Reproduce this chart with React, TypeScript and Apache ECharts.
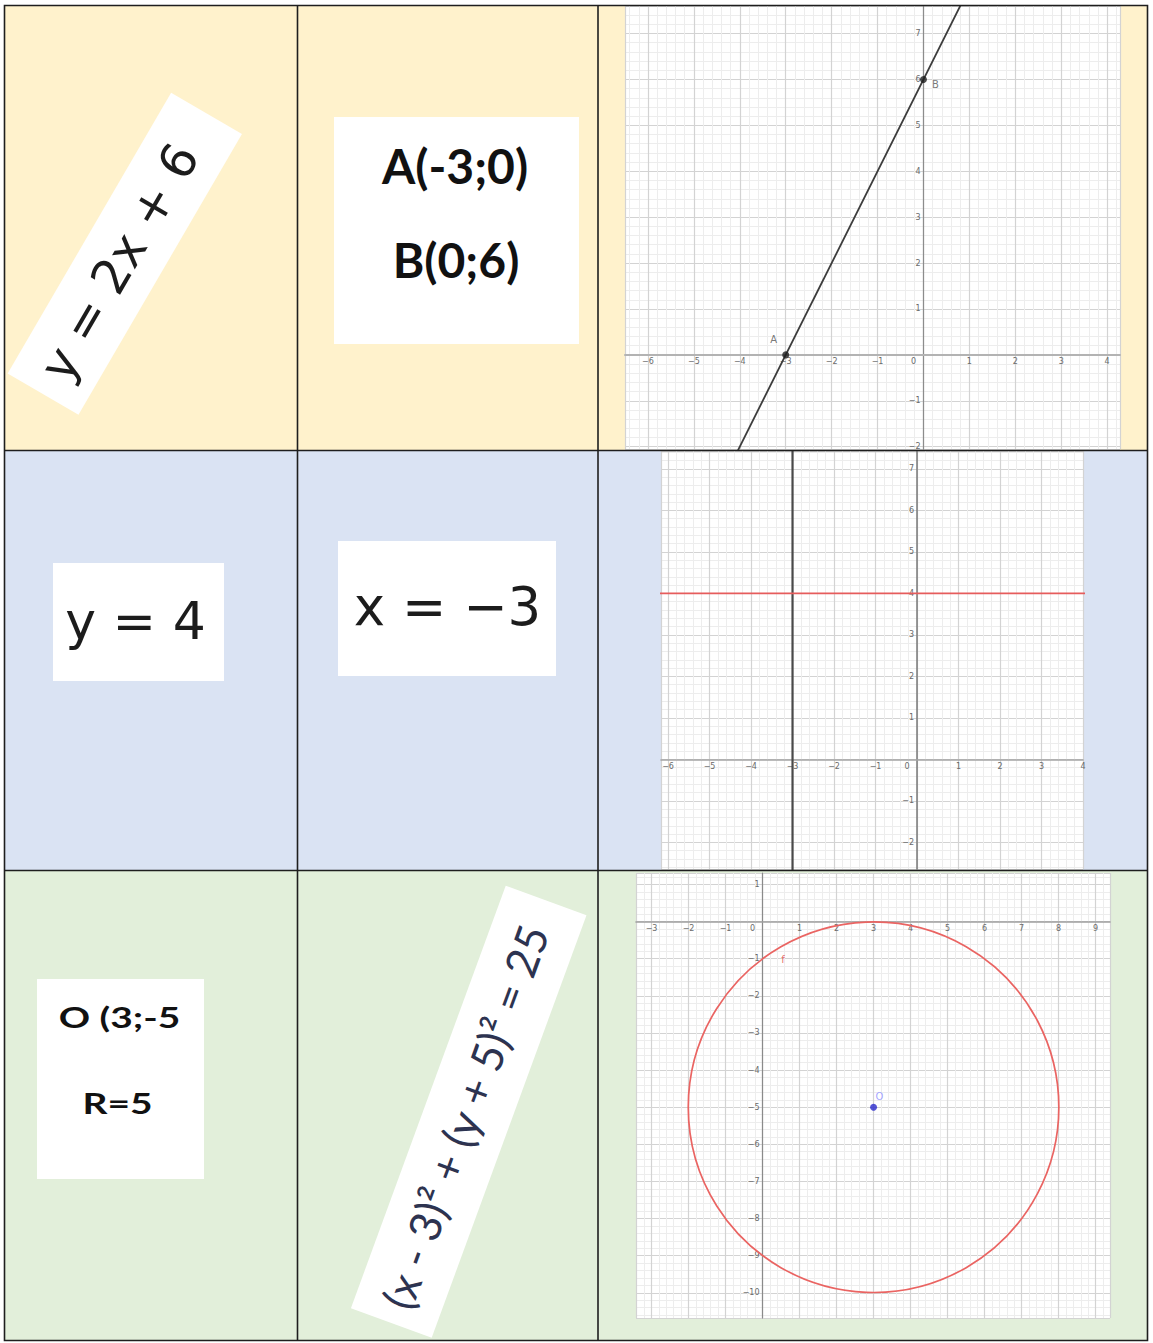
import React, { useEffect, useRef } from 'react';
import * as echarts from 'echarts';

const W = 1153;
const H = 1343;

// ---------- texts ----------
const eqRow1 = 'y = 2x + 6';
const pointsRow1Text = ['A(-3;0)', 'B(0;6)'];
const eqRow2a = 'y = 4';
const eqRow2b = 'x = −3';
const circleRow3Text = ['O (3;-5', 'R=5'];
const eqRow3 = '(x - 3)² + (y + 5)² = 25';

// ---------- plot 1 : y = 2x + 6 ----------
const plot1X = [-6.5, 4.28];
const plot1Y = [-2.05, 7.6];
const line1Points = [[-5, -4], [1, 8]]; // points on y = 2x + 6
const pointNames1 = ['A', 'B'];
const pointValues1 = [[-3, 0], [0, 6]];

// ---------- plot 2 : y = 4 and x = -3 ----------
const plot2X = [-6.17, 4];
const plot2Y = [-2.64, 7.43];
const horizLine2 = [[-8, 4], [6, 4]];
const vertLine2 = [[-3, -4], [-3, 9]];

// ---------- plot 3 : circle ----------
const plot3X = [-3.42, 9.39];
const plot3Y = [-10.68, 1.31];
const circle3 = [[3, -5, 5]]; // cx, cy, r
const center3 = [[3, -5]];
const centerName3 = 'O';
const circleLabel3 = [[0.55, -1.03]];
const circleName3 = 'f';

const MINOR_STEP = 0.2;
const TICK_FONT = 'DejaVu Sans';

const GRIDS = [
  { left: 625, top: 6, width: 495, height: 443 },
  { left: 661, top: 451, width: 422, height: 418 },
  { left: 636, top: 873, width: 474, height: 445 },
];

const fmtNum = (v: number) => (v < 0 ? '−' + Math.abs(v) : String(v));

function minorAxis(gi: number, range: number[], pos: string) {
  return {
    type: 'value',
    gridIndex: gi,
    min: range[0],
    max: range[1],
    position: pos,
    splitNumber: Math.round((range[1] - range[0]) / MINOR_STEP),
    axisLine: { show: false, onZero: false },
    axisTick: { show: false },
    axisLabel: { show: false },
    splitLine: { show: true, lineStyle: { color: '#ededed', width: 1 } },
    silent: true,
  };
}

// the axis is moved from the grid edge to the other axis's zero
function majorAxis(
  gi: number,
  range: number[],
  otherRange: number[],
  dim: 'x' | 'y',
  lineColor: string,
  lineWidth: number,
  showMax: boolean
) {
  const g = GRIDS[gi];
  const frac = (0 - otherRange[0]) / (otherRange[1] - otherRange[0]);
  const offset = -frac * (dim === 'x' ? g.height : g.width);
  return {
    type: 'value',
    gridIndex: gi,
    min: range[0],
    max: range[1],
    position: dim === 'x' ? 'bottom' : 'left',
    offset,
    splitNumber: Math.round(range[1] - range[0]),
    axisLine: { show: true, onZero: false, lineStyle: { color: lineColor, width: lineWidth } },
    axisTick: { show: false },
    axisLabel: {
      show: true,
      fontSize: 8,
      fontFamily: TICK_FONT,
      color: '#6a6a6a',
      margin: 3,
      showMinLabel: false,
      showMaxLabel: showMax,
      formatter: (v: number) => {
        if (v === 0) return dim === 'x' ? '{o|0}' : '';
        return fmtNum(v);
      },
      rich: {
        o: { fontSize: 8, fontFamily: TICK_FONT, color: '#6a6a6a', padding: [0, 20, 0, 0] },
      },
    },
    splitLine: { show: true, lineStyle: { color: '#d3d3d3', width: 1.2 } },
    silent: true,
  };
}

function buildOption() {
  const grids = GRIDS.map((g) => ({ ...g, show: true, backgroundColor: '#ffffff', borderWidth: 0, containLabel: false }));

  const xAxis = [
    minorAxis(0, plot1X, 'top'),
    majorAxis(0, plot1X, plot1Y, 'x', '#b3b3b3', 2, false),
    minorAxis(1, plot2X, 'top'),
    majorAxis(1, plot2X, plot2Y, 'x', '#a5a5a5', 1.6, true),
    minorAxis(2, plot3X, 'top'),
    majorAxis(2, plot3X, plot3Y, 'x', '#a0a0a0', 1.6, false),
  ];
  const yAxis = [
    minorAxis(0, plot1Y, 'right'),
    majorAxis(0, plot1Y, plot1X, 'y', '#8c8c8c', 1.2, false),
    minorAxis(1, plot2Y, 'right'),
    majorAxis(1, plot2Y, plot2X, 'y', '#7a7a7a', 1.5, false),
    minorAxis(2, plot3Y, 'right'),
    majorAxis(2, plot3Y, plot3X, 'y', '#8a8a8a', 1.2, false),
  ];

  const labelOffsets1: any[] = [
    { position: 'top', offset: [-12, -2] },
    { position: 'right', offset: [0, 5] },
  ];

  const series: any[] = [
    // plot 1
    {
      type: 'line',
      xAxisIndex: 1,
      yAxisIndex: 1,
      data: line1Points,
      symbol: 'none',
      clip: true,
      lineStyle: { color: '#3c3c3c', width: 1.8 },
      z: 3,
      silent: true,
    },
    {
      type: 'scatter',
      xAxisIndex: 1,
      yAxisIndex: 1,
      data: pointNames1.map((n, i) => ({
        name: n,
        value: pointValues1[i],
        label: labelOffsets1[i],
      })),
      symbolSize: 7,
      itemStyle: { color: '#1e1e1e' },
      label: { show: true, formatter: (p: any) => p.name, fontSize: 10, fontFamily: TICK_FONT, color: '#555' },
      z: 4,
      silent: true,
    },
    // plot 2
    {
      type: 'line',
      xAxisIndex: 3,
      yAxisIndex: 3,
      data: vertLine2,
      symbol: 'none',
      clip: true,
      lineStyle: { color: '#4a4a4a', width: 2.2 },
      z: 3,
      silent: true,
    },
    {
      type: 'line',
      xAxisIndex: 3,
      yAxisIndex: 3,
      data: horizLine2,
      symbol: 'none',
      clip: true,
      lineStyle: { color: '#e65c5c', width: 1.6 },
      z: 4,
      silent: true,
    },
    // plot 3
    {
      type: 'custom',
      xAxisIndex: 5,
      yAxisIndex: 5,
      data: circle3,
      encode: { x: 0, y: 1 },
      silent: true,
      z: 3,
      renderItem: (_params: any, api: any) => {
        const c = api.coord([api.value(0), api.value(1)]);
        const s = api.size([api.value(2), api.value(2)]);
        return {
          type: 'circle',
          shape: { cx: c[0], cy: c[1], r: (s[0] + s[1]) / 2 },
          style: { fill: 'none', stroke: '#ea6462', lineWidth: 1.7 },
        };
      },
    },
    {
      type: 'scatter',
      xAxisIndex: 5,
      yAxisIndex: 5,
      data: center3.map((v) => ({ name: centerName3, value: v })),
      symbolSize: 7,
      itemStyle: { color: '#2b2bcc' },
      label: {
        show: true,
        position: 'top',
        offset: [6, 3],
        formatter: (p: any) => p.name,
        fontSize: 10,
        fontFamily: TICK_FONT,
        color: '#8f8fff',
      },
      z: 4,
      silent: true,
    },
    {
      type: 'scatter',
      xAxisIndex: 5,
      yAxisIndex: 5,
      data: circleLabel3.map((v) => ({ name: circleName3, value: v })),
      symbolSize: 1,
      itemStyle: { color: 'rgba(0,0,0,0)' },
      label: {
        show: true,
        position: 'inside',
        formatter: (p: any) => p.name,
        fontSize: 10,
        fontFamily: TICK_FONT,
        color: '#e04848',
      },
      z: 4,
      silent: true,
    },
  ];

  const textStyle = (text: string, size: number, family: string, weight: string, fill: string) => ({
    text,
    fontSize: size,
    fontFamily: family,
    fontWeight: weight,
    fill,
    align: 'center',
    verticalAlign: 'middle',
    textAlign: 'center',
    textVerticalAlign: 'middle',
  });

  const deg = Math.PI / 180;

  const graphic: any[] = [
    // row backgrounds
    { type: 'rect', shape: { x: 4, y: 5, width: 1144, height: 446 }, style: { fill: '#FFF2CC' }, z: -10, silent: true },
    { type: 'rect', shape: { x: 4, y: 450, width: 1144, height: 421 }, style: { fill: '#DAE3F3' }, z: -10, silent: true },
    { type: 'rect', shape: { x: 4, y: 870, width: 1144, height: 471 }, style: { fill: '#E2EFDA' }, z: -10, silent: true },

    // row 1, col 1 : rotated equation
    {
      type: 'group',
      x: 124.8,
      y: 253.8,
      rotation: 59.8 * deg,
      children: [
        { type: 'rect', shape: { x: -162.5, y: -41, width: 325, height: 82 }, style: { fill: '#ffffff' }, z: 10, silent: true },
        { type: 'text', x: -10, y: 0, style: textStyle(eqRow1, 49, 'DejaVu Sans', 'normal', '#1c1c1c'), z: 11, silent: true },
      ],
    },

    // row 1, col 2 : points
    { type: 'rect', shape: { x: 334, y: 117, width: 245, height: 227 }, style: { fill: '#ffffff' }, z: 10, silent: true },
    { type: 'text', x: 455, y: 165, style: textStyle(pointsRow1Text[0], 48, 'Lato', 'bold', '#111111'), z: 11, silent: true },
    { type: 'text', x: 456, y: 259, style: textStyle(pointsRow1Text[1], 48, 'Lato', 'bold', '#111111'), z: 11, silent: true },

    // row 2, col 1
    { type: 'rect', shape: { x: 53, y: 563, width: 171, height: 118 }, style: { fill: '#ffffff' }, z: 10, silent: true },
    { type: 'text', x: 135.5, y: 621, style: textStyle(eqRow2a, 52, 'DejaVu Sans', 'normal', '#1c1c1c'), z: 11, silent: true },

    // row 2, col 2
    { type: 'rect', shape: { x: 338, y: 541, width: 218, height: 135 }, style: { fill: '#ffffff' }, z: 10, silent: true },
    { type: 'text', x: 447.5, y: 606.5, style: textStyle(eqRow2b, 53, 'DejaVu Sans', 'normal', '#1c1c1c'), z: 11, silent: true },

    // row 3, col 1
    { type: 'rect', shape: { x: 37, y: 979, width: 167, height: 200 }, style: { fill: '#ffffff' }, z: 10, silent: true },
    { type: 'text', x: 119.5, y: 1017, scaleX: 1.34, style: textStyle(circleRow3Text[0], 29, 'Lato', 'bold', '#111111'), z: 11, silent: true },
    { type: 'text', x: 117.5, y: 1103, scaleX: 1.34, style: textStyle(circleRow3Text[1], 29, 'Lato', 'bold', '#111111'), z: 11, silent: true },

    // row 3, col 2 : rotated equation
    {
      type: 'group',
      x: 468.7,
      y: 1111.7,
      rotation: 69.9 * deg,
      children: [
        { type: 'rect', shape: { x: -225, y: -43, width: 450, height: 86 }, style: { fill: '#ffffff' }, z: 10, silent: true },
        { type: 'text', x: -6, y: -2, style: textStyle(eqRow3, 44, 'Lato', 'normal', '#2d3350'), z: 11, silent: true },
      ],
    },

    // table borders
    { type: 'rect', shape: { x: 4.5, y: 5.5, width: 1143, height: 1335 }, style: { fill: 'none', stroke: '#1e1e1e', lineWidth: 1.6 }, z: 20, silent: true },
    { type: 'line', shape: { x1: 297.5, y1: 5, x2: 297.5, y2: 1341 }, style: { stroke: '#1e1e1e', lineWidth: 1.6 }, z: 20, silent: true },
    { type: 'line', shape: { x1: 598, y1: 5, x2: 598, y2: 1341 }, style: { stroke: '#1e1e1e', lineWidth: 1.6 }, z: 20, silent: true },
    { type: 'line', shape: { x1: 4, y1: 450.5, x2: 1148, y2: 450.5 }, style: { stroke: '#1e1e1e', lineWidth: 1.6 }, z: 20, silent: true },
    { type: 'line', shape: { x1: 4, y1: 870.5, x2: 1148, y2: 870.5 }, style: { stroke: '#1e1e1e', lineWidth: 1.6 }, z: 20, silent: true },
  ];

  return {
    animation: false,
    backgroundColor: '#ffffff',
    grid: grids,
    xAxis,
    yAxis,
    series,
    graphic,
  };
}

export default function App() {
  const ref = useRef<HTMLDivElement>(null);
  useEffect(() => {
    if (!ref.current) return;
    const chart = echarts.init(ref.current, null, { renderer: 'svg' });
    chart.setOption(buildOption() as any);
    return () => {
      chart.dispose();
    };
  }, []);
  return (
    <div
      ref={ref}
      style={{ position: 'absolute', left: 0, top: 0, width: W, height: H }}
    />
  );
}
